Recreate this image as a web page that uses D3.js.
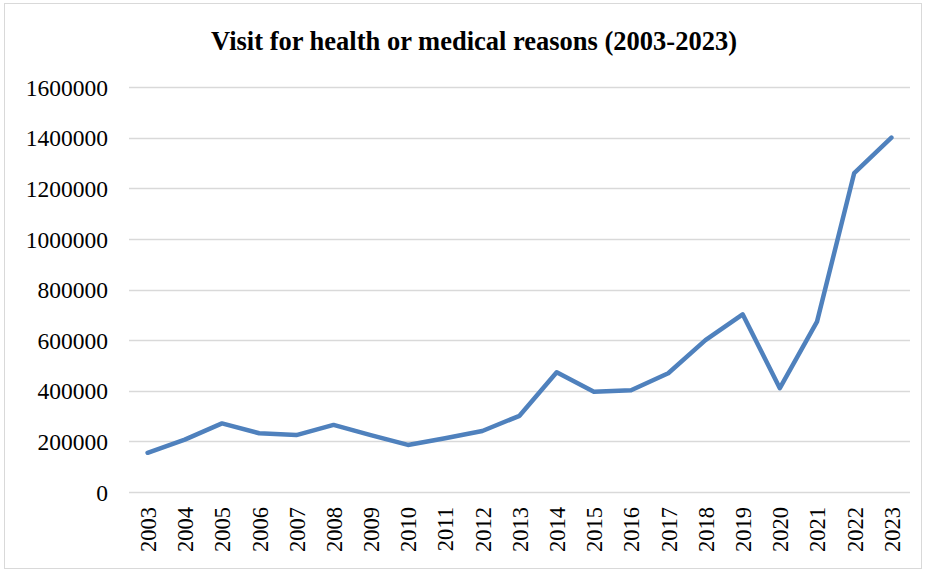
<!DOCTYPE html>
<html>
<head>
<meta charset="utf-8">
<script src="https://cdn.jsdelivr.net/npm/d3@7"></script>
<style>
  body { margin: 0; background: #fff; }
  svg { display: block; font-family: "Liberation Serif", "Times New Roman", serif; }
</style>
</head>
<body>
<svg width="927" height="572"></svg>
<script>
const title = "Visit for health or medical reasons (2003-2023)";
const years = ["2003", "2004", "2005", "2006", "2007", "2008", "2009", "2010", "2011", "2012", "2013",
               "2014", "2015", "2016", "2017", "2018", "2019", "2020", "2021", "2022", "2023"];
const visits = [155000, 207000, 271000, 232000, 225000, 265000, 225000, 186000, 212000, 241000, 301000,
                473000, 396000, 402000, 469000, 600000, 702000, 410000, 673000, 1260000, 1400000];
const yTicks = [0, 200000, 400000, 600000, 800000, 1000000, 1200000, 1400000, 1600000];

const svg = d3.select("svg");

// Chart border
svg.append("rect")
    .attr("x", 4.5).attr("y", 3.5)
    .attr("width", 917).attr("height", 565)
    .attr("fill", "#fff")
    .attr("stroke", "#d9d9d9")
    .attr("stroke-width", 1);

const margin = { top: 87, right: 17, bottom: 80, left: 129 };
const width = 927 - margin.left - margin.right;
const height = 572 - margin.top - margin.bottom;
const g = svg.append("g").attr("transform", `translate(${margin.left},${margin.top})`);

// Title
svg.append("text")
    .attr("x", 474)
    .attr("y", 50)
    .attr("text-anchor", "middle")
    .attr("font-size", "26.5px")
    .attr("font-weight", "bold")
    .text(title);

// Scales
const x = d3.scalePoint()
    .domain(years)
    .range([0, width])
    .padding(0.5);

const y = d3.scaleLinear()
    .domain([0, 1600000])
    .range([height, 0]);

// Gridlines
g.append("g")
    .selectAll("line")
    .data(yTicks)
    .enter()
    .append("line")
    .attr("x1", 0).attr("x2", width)
    .attr("y1", d => Math.round(y(d)) + 0.5)
    .attr("y2", d => Math.round(y(d)) + 0.5)
    .attr("stroke", "#d9d9d9")
    .attr("stroke-width", 1.5);

// Y axis labels
const yAxis = g.append("g")
    .call(d3.axisLeft(y).tickValues(yTicks).tickSize(0).tickPadding(21).tickFormat(d3.format("d")));
yAxis.select(".domain").remove();
yAxis.selectAll("text")
    .attr("font-family", "Liberation Serif, Times New Roman, serif")
    .attr("font-size", "23.5px")
    .attr("fill", "#000")
    .attr("dy", "0.35em");

// X axis labels
const xAxis = g.append("g")
    .attr("transform", `translate(0,${height})`)
    .call(d3.axisBottom(x).tickSize(0).tickPadding(0));
xAxis.select(".domain").remove();
xAxis.selectAll("text")
    .attr("font-family", "Liberation Serif, Times New Roman, serif")
    .attr("font-size", "22.5px")
    .attr("fill", "#000")
    .attr("transform", "rotate(-90)")
    .attr("x", -15)
    .attr("y", 0)
    .attr("dy", "0.35em")
    .style("text-anchor", "end");

// Line
const line = d3.line()
    .x((d, i) => x(years[i]))
    .y(d => y(d));

g.append("path")
    .datum(visits)
    .attr("fill", "none")
    .attr("stroke", "#4f81bd")
    .attr("stroke-width", 4.5)
    .attr("stroke-linejoin", "round")
    .attr("stroke-linecap", "round")
    .attr("d", line);
</script>
</body>
</html>
